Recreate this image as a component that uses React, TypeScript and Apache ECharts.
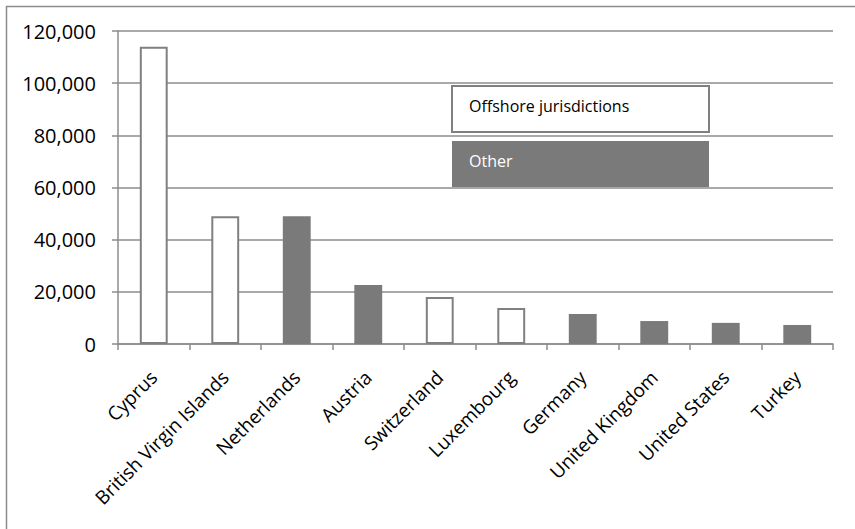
import React, { useEffect, useRef } from "react";
import * as echarts from "echarts";

const categories = [
  "Cyprus",
  "British Virgin Islands",
  "Netherlands",
  "Austria",
  "Switzerland",
  "Luxembourg",
  "Germany",
  "United Kingdom",
  "United States",
  "Turkey",
];
const values = [114000, 49000, 49000, 22600, 18000, 13800, 11500, 8800, 8100, 7300];
const offshore = [true, true, false, false, true, true, false, false, false, false];
const yTicks = { min: 0, max: 120000, interval: 20000 };
const seriesNames = ["Offshore jurisdictions", "Other"];

const FONT = "'Open Sans', sans-serif";

export default function App() {
  const ref = useRef<HTMLDivElement>(null);
  useEffect(() => {
    if (!ref.current) return;
    const chart = echarts.init(ref.current, undefined, { renderer: "svg" });
    const offData = values.map((v, i) => (offshore[i] ? v : null));
    const otherData = values.map((v, i) => (!offshore[i] ? v : null));
    chart.setOption({
      animation: false,
      backgroundColor: "#ffffff",
      grid: { left: 118, right: 22, top: 31, bottom: 185 },
      xAxis: {
        type: "category",
        data: categories,
        axisLine: { show: true, lineStyle: { color: "#8c8c8c", width: 1.5 } },
        axisTick: { show: true, alignWithLabel: false, length: 6, lineStyle: { color: "#8c8c8c", width: 1.5 } },
        axisLabel: {
          interval: 0,
          rotate: 45,
          margin: 30,
          color: "#000",
          fontFamily: FONT,
          fontSize: 19,
        },
      },
      yAxis: {
        type: "value",
        min: yTicks.min,
        max: yTicks.max,
        interval: yTicks.interval,
        axisLine: { show: true, lineStyle: { color: "#8c8c8c", width: 1.5 } },
        axisTick: { show: true, inside: false, length: 6, lineStyle: { color: "#8c8c8c", width: 1.5 } },
        splitLine: { show: true, lineStyle: { color: "#8c8c8c", width: 1.5 } },
        axisLabel: {
          margin: 22,
          color: "#000",
          fontFamily: FONT,
          fontSize: 20,
          formatter: (v: number) => v.toLocaleString("en-US"),
        },
      },
      series: [
        {
          name: seriesNames[0],
          type: "bar",
          stack: "t",
          barWidth: "39%",
          data: offData,
          itemStyle: { color: "#ffffff", borderColor: "#808080", borderWidth: 2 },
        },
        {
          name: seriesNames[1],
          type: "bar",
          stack: "t",
          barWidth: "39%",
          data: otherData,
          itemStyle: { color: "#7a7a7a" },
        },
      ],
      graphic: [
        {
          type: "rect",
          left: 4,
          top: 4,
          shape: { width: 900, height: 600 },
          style: { fill: "none", stroke: "#8c8c8c", lineWidth: 1.5 },
          silent: true,
        },
        {
          type: "rect",
          left: 451,
          top: 85,
          shape: { width: 257, height: 46 },
          style: { fill: "#ffffff", stroke: "#808080", lineWidth: 2 },
        },
        {
          type: "text",
          left: 469,
          top: 98,
          style: { text: seriesNames[0], fill: "#000", font: `16px ${FONT}` },
        },
        {
          type: "rect",
          left: 452,
          top: 141,
          shape: { width: 257, height: 46 },
          style: { fill: "#7a7a7a" },
        },
        {
          type: "text",
          left: 469,
          top: 153,
          style: { text: seriesNames[1], fill: "#ffffff", font: `16px ${FONT}` },
        },
      ],
    });
    return () => chart.dispose();
  }, []);
  return (
    <div
      ref={ref}
      style={{ position: "absolute", left: 0, top: 0, width: 855, height: 529 }}
    />
  );
}
